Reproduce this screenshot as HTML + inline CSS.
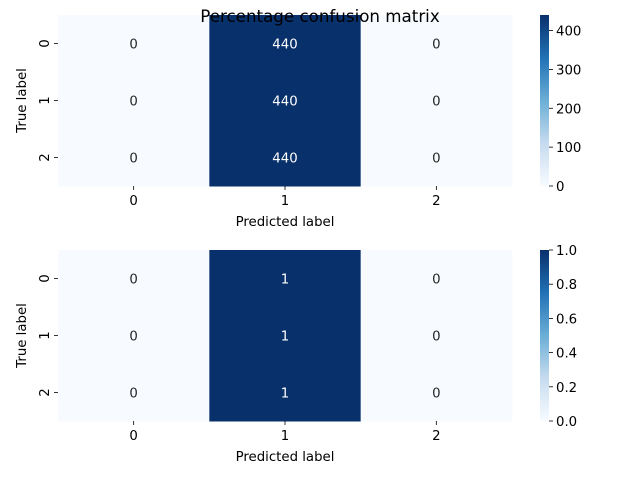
<!DOCTYPE html>
<html><head><meta charset="utf-8"><style>
body{margin:0;background:#fff}
svg text{font-family:"DejaVu Sans","Liberation Sans",sans-serif;font-size:13.3px}
</style></head><body>
<svg id="chart" width="640" height="480">
<defs>
<linearGradient id="blues" x1="0" y1="1" x2="0" y2="0">
<stop offset="0" stop-color="#f7fbff"/><stop offset="0.25" stop-color="#c6dbef"/>
<stop offset="0.5" stop-color="#6baed6"/><stop offset="0.75" stop-color="#2171b5"/>
<stop offset="1" stop-color="#08306b"/></linearGradient>
</defs>
</svg>
<script>
const categories = ["0","1","2"];
const countsMatrix = [[0,440,0],[0,440,0],[0,440,0]];
const percentMatrix = [[0,1,0],[0,1,0],[0,1,0]];
const countTicks = [0,100,200,300,400];
const percentTicks = [0,0.2,0.4,0.6,0.8,1.0];
const countMax = 440;
const percentMax = 1.0;

const svg = document.getElementById('chart');
const NS = 'http://www.w3.org/2000/svg';
function mk(tag, attrs, parent){const e=document.createElementNS(NS,tag);for(const k in attrs)e.setAttribute(k,attrs[k]);(parent||svg).appendChild(e);return e;}
function lerp(a,b,t){return a+(b-a)*t;}
const stops=[[0,[247,251,255]],[0.25,[198,219,239]],[0.5,[107,174,214]],[0.75,[33,113,181]],[1,[8,48,107]]];
function color(t){t=Math.max(0,Math.min(1,t));for(let i=1;i<stops.length;i++){if(t<=stops[i][0]){const a=stops[i-1],b=stops[i];const u=(t-a[0])/(b[0]-a[0]);return 'rgb('+a[1].map((v,j)=>Math.round(lerp(v,b[1][j],u))).join(',')+')';}}return 'rgb(8,48,107)';}

function panel(matrix, vmax, ticks, top, fmt, name){
  const left=58, width=454, height=171;
  const cw=width/categories.length, ch=height/categories.length;
  const g=mk('g',{});
  
  
  matrix.forEach((row,r)=>row.forEach((v,c)=>{
    const t=v/vmax;
    const rect=mk('rect',{x:left+c*cw,y:top+r*ch,width:cw+0.5,height:ch+0.5,fill:color(t)},g);
    
    
    const tx=mk('text',{x:left+c*cw+cw/2,y:top+r*ch+ch/2+5,'text-anchor':'middle',fill:t>0.5?'#fff':'#262626'},g);
    tx.textContent=fmt(v);
    
    
  }));
  categories.forEach((cat,i)=>{
    const x=left+i*cw+cw/2;
    mk('line',{x1:x,x2:x,y1:top+height,y2:top+height+4,stroke:'#000','stroke-width':0.8},g);
    const t=mk('text',{x:x,y:top+height+19,'text-anchor':'middle'},g);t.textContent=cat;
    
    
    const y=top+i*ch+ch/2;
    mk('line',{x1:left-4,x2:left,y1:y,y2:y,stroke:'#000','stroke-width':0.8},g);
    const ty=mk('text',{x:0,y:0,'text-anchor':'middle',transform:'translate('+(left-9)+','+y+') rotate(-90)'},g);ty.textContent=cat;
    
    
  });
  const xl=mk('text',{x:left+width/2,y:top+height+40,'text-anchor':'middle'},g);xl.textContent='Predicted label';
  
  
  const yl=mk('text',{x:0,y:0,'text-anchor':'middle',transform:'translate(26,'+(top+height/2)+') rotate(-90)'},g);yl.textContent='True label';
  
  
  const cx=540, cwid=9;
  const cb=mk('rect',{x:cx,y:top,width:cwid,height:height,fill:'url(#blues)'},g);
  
  
  ticks.forEach(v=>{
    const y=top+height-(v/vmax)*height;
    mk('line',{x1:cx+cwid,x2:cx+cwid+4,y1:y,y2:y,stroke:'#000','stroke-width':0.8},g);
    const t=mk('text',{x:cx+cwid+7,y:y+5},g);t.textContent=(vmax<=1?v.toFixed(1):String(v));
    
    
  });
}
panel(countsMatrix, countMax, countTicks, 15, v=>String(v), 'counts-heatmap');
panel(percentMatrix, percentMax, percentTicks, 250, v=>String(v), 'percent-heatmap');
const title=mk('text',{x:320,y:22,'text-anchor':'middle',style:'font-size:16.7px'});
title.textContent='Percentage confusion matrix';


</script>
</body></html>
